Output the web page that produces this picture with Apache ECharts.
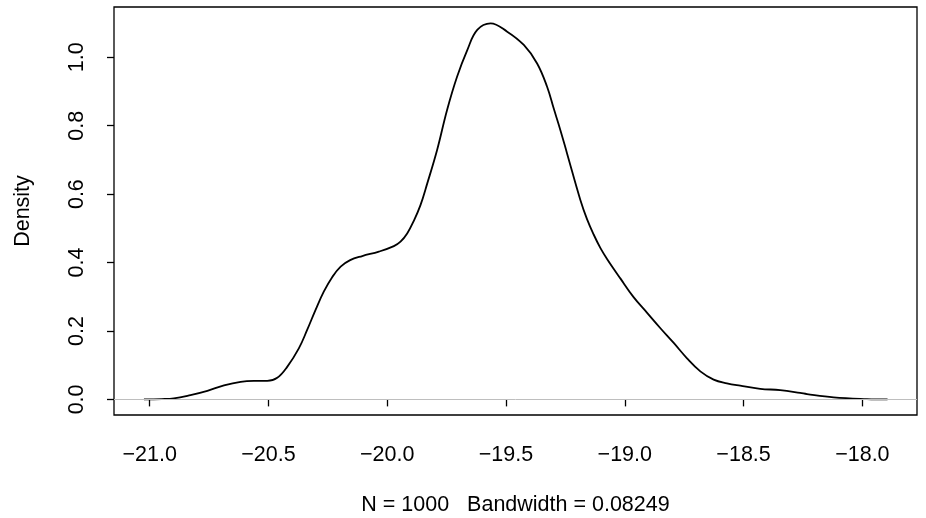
<!DOCTYPE html>
<html>
<head>
<meta charset="utf-8">
<script src="https://cdn.jsdelivr.net/npm/echarts@6/dist/echarts.min.js"></script>
<style>
html,body{margin:0;padding:0;background:#fff;}
#chart{width:926px;height:518px;}
</style>
</head>
<body>
<div id="chart"></div>
<script>
// Density curve samples (x, density)
const densityX = [-21.024, -20.95, -20.898, -20.828, -20.757, -20.687, -20.617, -20.561, -20.505, -20.463, -20.421, -20.372, -20.337, -20.302, -20.267, -20.231, -20.196, -20.156, -20.105, -20.035, -19.972, -19.944, -19.916, -19.888, -19.860, -19.832, -19.790, -19.748, -19.706, -19.663, -19.621, -19.565, -19.495, -19.425, -19.369, -19.327, -19.299, -19.271, -19.243, -19.187, -19.159, -19.131, -19.103, -19.074, -19.018, -18.963, -18.906, -18.850, -18.794, -18.738, -18.682, -18.626, -18.570, -18.514, -18.430, -18.346, -18.262, -18.233, -18.121, -17.981, -17.894];
const densityY = [0.000, 0.001, 0.003, 0.0126, 0.025, 0.041, 0.0515, 0.054, 0.054, 0.063, 0.095, 0.149, 0.203, 0.261, 0.315, 0.358, 0.388, 0.407, 0.419, 0.432, 0.448, 0.461, 0.485, 0.522, 0.568, 0.630, 0.729, 0.846, 0.943, 1.021, 1.080, 1.099, 1.075, 1.036, 0.982, 0.914, 0.850, 0.787, 0.719, 0.583, 0.527, 0.482, 0.443, 0.410, 0.353, 0.299, 0.253, 0.208, 0.165, 0.120, 0.082, 0.058, 0.047, 0.040, 0.031, 0.027, 0.019, 0.0155, 0.006, 0.001, 0.000];
const xTicks = [-21.0, -20.5, -20.0, -19.5, -19.0, -18.5, -18.0];
const yTicks = [0.0, 0.2, 0.4, 0.6, 0.8, 1.0];
const xTitle = 'N = 1000   Bandwidth = 0.08249';
const yTitle = 'Density';

const points = densityX.map((x, i) => [x, densityY[i]]);
const fmt = v => (v < 0 ? '\u2212' : '') + Math.abs(v).toFixed(1);
const FONT = '"Liberation Sans", Arial, Helvetica, sans-serif';
const FS = 21.5;

const chart = echarts.init(document.getElementById('chart'), null, {renderer: 'canvas'});
chart.setOption({
  animation: false,
  backgroundColor: '#ffffff',
  grid: {left: 114, right: 9, top: 7, bottom: 103, containLabel: false, outerBoundsMode: 'none', show: true, borderColor: '#000', borderWidth: 1.3, backgroundColor: 'transparent'},
  xAxis: {
    type: 'value', min: -21.15, max: -17.77,
    axisLine: {show: false},
    axisTick: {show: true, customValues: xTicks, length: 7, inside: false, lineStyle: {color: '#000', width: 1.3}},
    axisLabel: {customValues: xTicks, formatter: fmt, fontFamily: FONT, fontSize: FS, color: '#000', margin: 29},
    splitLine: {show: false},
    name: xTitle, nameLocation: 'middle', nameGap: 79,
    nameTextStyle: {fontFamily: FONT, fontSize: FS, color: '#000'}
  },
  yAxis: {
    type: 'value', min: -0.0456, max: 1.147,
    axisLine: {show: false},
    axisTick: {show: true, customValues: yTicks, length: 7, inside: false, lineStyle: {color: '#000', width: 1.3}},
    axisLabel: {customValues: yTicks, formatter: fmt, rotate: 90, fontFamily: FONT, fontSize: FS, color: '#000', margin: 26},
    splitLine: {show: false},
    name: yTitle, nameLocation: 'middle', nameGap: 80, nameRotate: 90,
    nameTextStyle: {fontFamily: FONT, fontSize: FS, color: '#000'}
  },
  series: [{
    type: 'line', data: points, smooth: 0.4, symbol: 'none',
    lineStyle: {color: '#000', width: 1.8},
    markLine: {
      silent: true, symbol: 'none', label: {show: false},
      lineStyle: {color: '#bebebe', type: 'solid', width: 1},
      data: [{yAxis: 0}]
    },
    z: 3
  }]
});
</script>
</body>
</html>
